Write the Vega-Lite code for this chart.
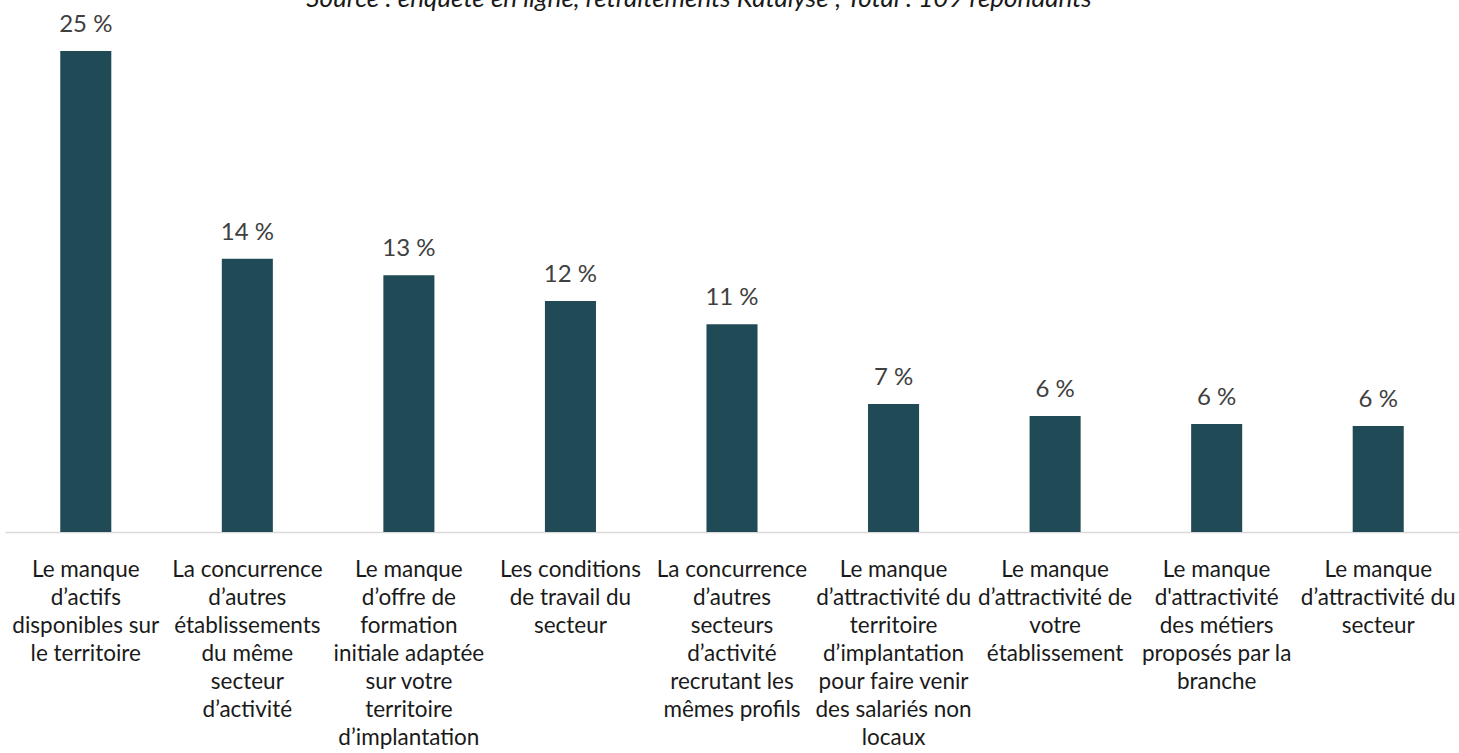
{
  "$schema": "https://vega.github.io/schema/vega-lite/v6.json",
  "autosize": "none",
  "width": 1454,
  "height": 532,
  "padding": {"left": 5, "top": 0, "right": 0, "bottom": 221},
  "background": "white",
  "title": {
    "text": "Source : enquête en ligne, retraitements Katalyse ; Total : 109 répondants",
    "font": "Lato",
    "fontSize": 26,
    "fontStyle": "italic",
    "fontWeight": "normal",
    "color": "#1a1a1a",
    "baseline": "alphabetic",
    "offset": -33,
    "dx": -33
  },
  "data": {
    "values": [
      {"cause": "Le manque\nd’actifs\ndisponibles sur\nle territoire", "pct": 25.0, "label": "25 %"},
      {"cause": "La concurrence\nd’autres\nétablissements\ndu même\nsecteur\nd’activité", "pct": 14.2, "label": "14 %"},
      {"cause": "Le manque\nd’offre de\nformation\ninitiale adaptée\nsur votre\nterritoire\nd’implantation", "pct": 13.35, "label": "13 %"},
      {"cause": "Les conditions\nde travail du\nsecteur", "pct": 12.0, "label": "12 %"},
      {"cause": "La concurrence\nd’autres\nsecteurs\nd’activité\nrecrutant les\nmêmes profils", "pct": 10.8, "label": "11 %"},
      {"cause": "Le manque\nd’attractivité du\nterritoire\nd’implantation\npour faire venir\ndes salariés non\nlocaux", "pct": 6.65, "label": "7 %"},
      {"cause": "Le manque\nd’attractivité de\nvotre\nétablissement", "pct": 6.03, "label": "6 %"},
      {"cause": "Le manque\nd'attractivité\ndes métiers\nproposés par la\nbranche", "pct": 5.61, "label": "6 %"},
      {"cause": "Le manque\nd’attractivité du\nsecteur", "pct": 5.51, "label": "6 %"}
    ]
  },
  "encoding": {
    "x": {
      "field": "cause",
      "type": "nominal",
      "sort": null,
      "scale": {"paddingInner": 0.684, "paddingOuter": 0.342},
      "axis": {
        "title": null,
        "labelAngle": 0,
        "labelExpr": "split(datum.value, '\\n')",
        "labelFont": "Lato",
        "labelFontSize": 22.5,
        "labelColor": "#1a1a1a",
        "labelLimit": 400,
        "labelLineHeight": 28,
        "labelPadding": 26,
        "labelBaseline": "top",
        "ticks": false,
        "domainColor": "#d9d9d9",
        "domainWidth": 1.5
      }
    },
    "y": {
      "field": "pct",
      "type": "quantitative",
      "scale": {"domain": [0, 27.65], "nice": false, "zero": true},
      "axis": null
    }
  },
  "layer": [
    {"mark": {"type": "bar", "color": "#204A55"}},
    {
      "mark": {"type": "text", "dy": -19, "font": "Lato", "fontSize": 24, "color": "#404040", "baseline": "alphabetic"},
      "encoding": {"text": {"field": "label"}}
    }
  ],
  "config": {"view": {"stroke": null}}
}
